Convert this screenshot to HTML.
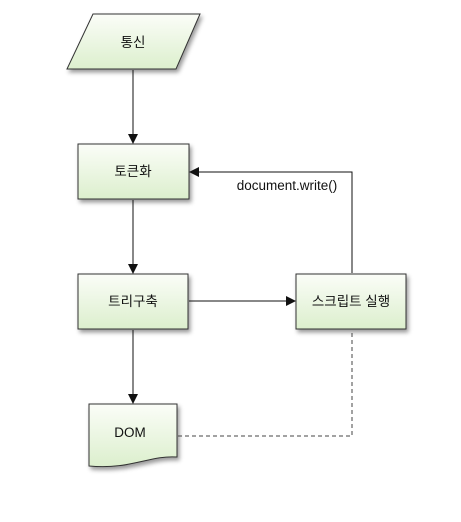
<!DOCTYPE html>
<html><head><meta charset="utf-8"><style>
body{margin:0;background:#fff;width:461px;height:517px;overflow:hidden}
svg text{font-family:"Liberation Sans","Noto Sans CJK KR",sans-serif;font-size:13.5px;fill:#111}
</style></head><body>
<svg width="461" height="517" viewBox="0 0 461 517" xmlns="http://www.w3.org/2000/svg">
<defs>
<linearGradient id="g" x1="0" y1="0" x2="0" y2="1"><stop offset="0" stop-color="#fbfdf8"/><stop offset="1" stop-color="#dcefcd"/></linearGradient>
<filter id="s" x="-20%" y="-20%" width="150%" height="150%"><feDropShadow dx="2" dy="3" stdDeviation="2" flood-color="#000" flood-opacity="0.4"/></filter>
<marker id="a" markerWidth="10" markerHeight="10" refX="9" refY="5" orient="auto" markerUnits="userSpaceOnUse"><path d="M0,0 L10,5 L0,10 z" fill="#111"/></marker>
</defs>
<g stroke="#333" stroke-width="1" fill="url(#g)" filter="url(#s)">
<polygon points="93,14 200,14 176,69 67,69"/>
<rect x="78" y="144" width="111" height="55"/>
<rect x="78" y="274" width="110" height="55"/>
<rect x="296" y="274" width="110" height="55"/>
<path d="M89,404 L177,404 L177,457 C150,455 130,470 89,466 Z"/>
</g>
<g stroke="#111" stroke-width="1" fill="none">
<line x1="133" y1="70" x2="133" y2="143" marker-end="url(#a)"/>
<line x1="133" y1="200" x2="133" y2="273" marker-end="url(#a)"/>
<line x1="133" y1="330" x2="133" y2="403" marker-end="url(#a)"/>
<line x1="189" y1="301" x2="295" y2="301" marker-end="url(#a)"/>
<polyline points="352,273 352,172 190,172" marker-end="url(#a)"/>
<polyline points="178,436 352,436 352,330" stroke="#444" stroke-dasharray="4,3"/>
</g>
<text x="133" y="47" text-anchor="middle">통신</text>
<text x="133" y="176" text-anchor="middle">토큰화</text>
<text x="133" y="306" text-anchor="middle">트리구축</text>
<text x="351" y="306" text-anchor="middle">스크립트 실행</text>
<text x="130" y="437" text-anchor="middle">DOM</text>
<text x="287" y="190" text-anchor="middle">document.write()</text>
</svg>
</body></html>
